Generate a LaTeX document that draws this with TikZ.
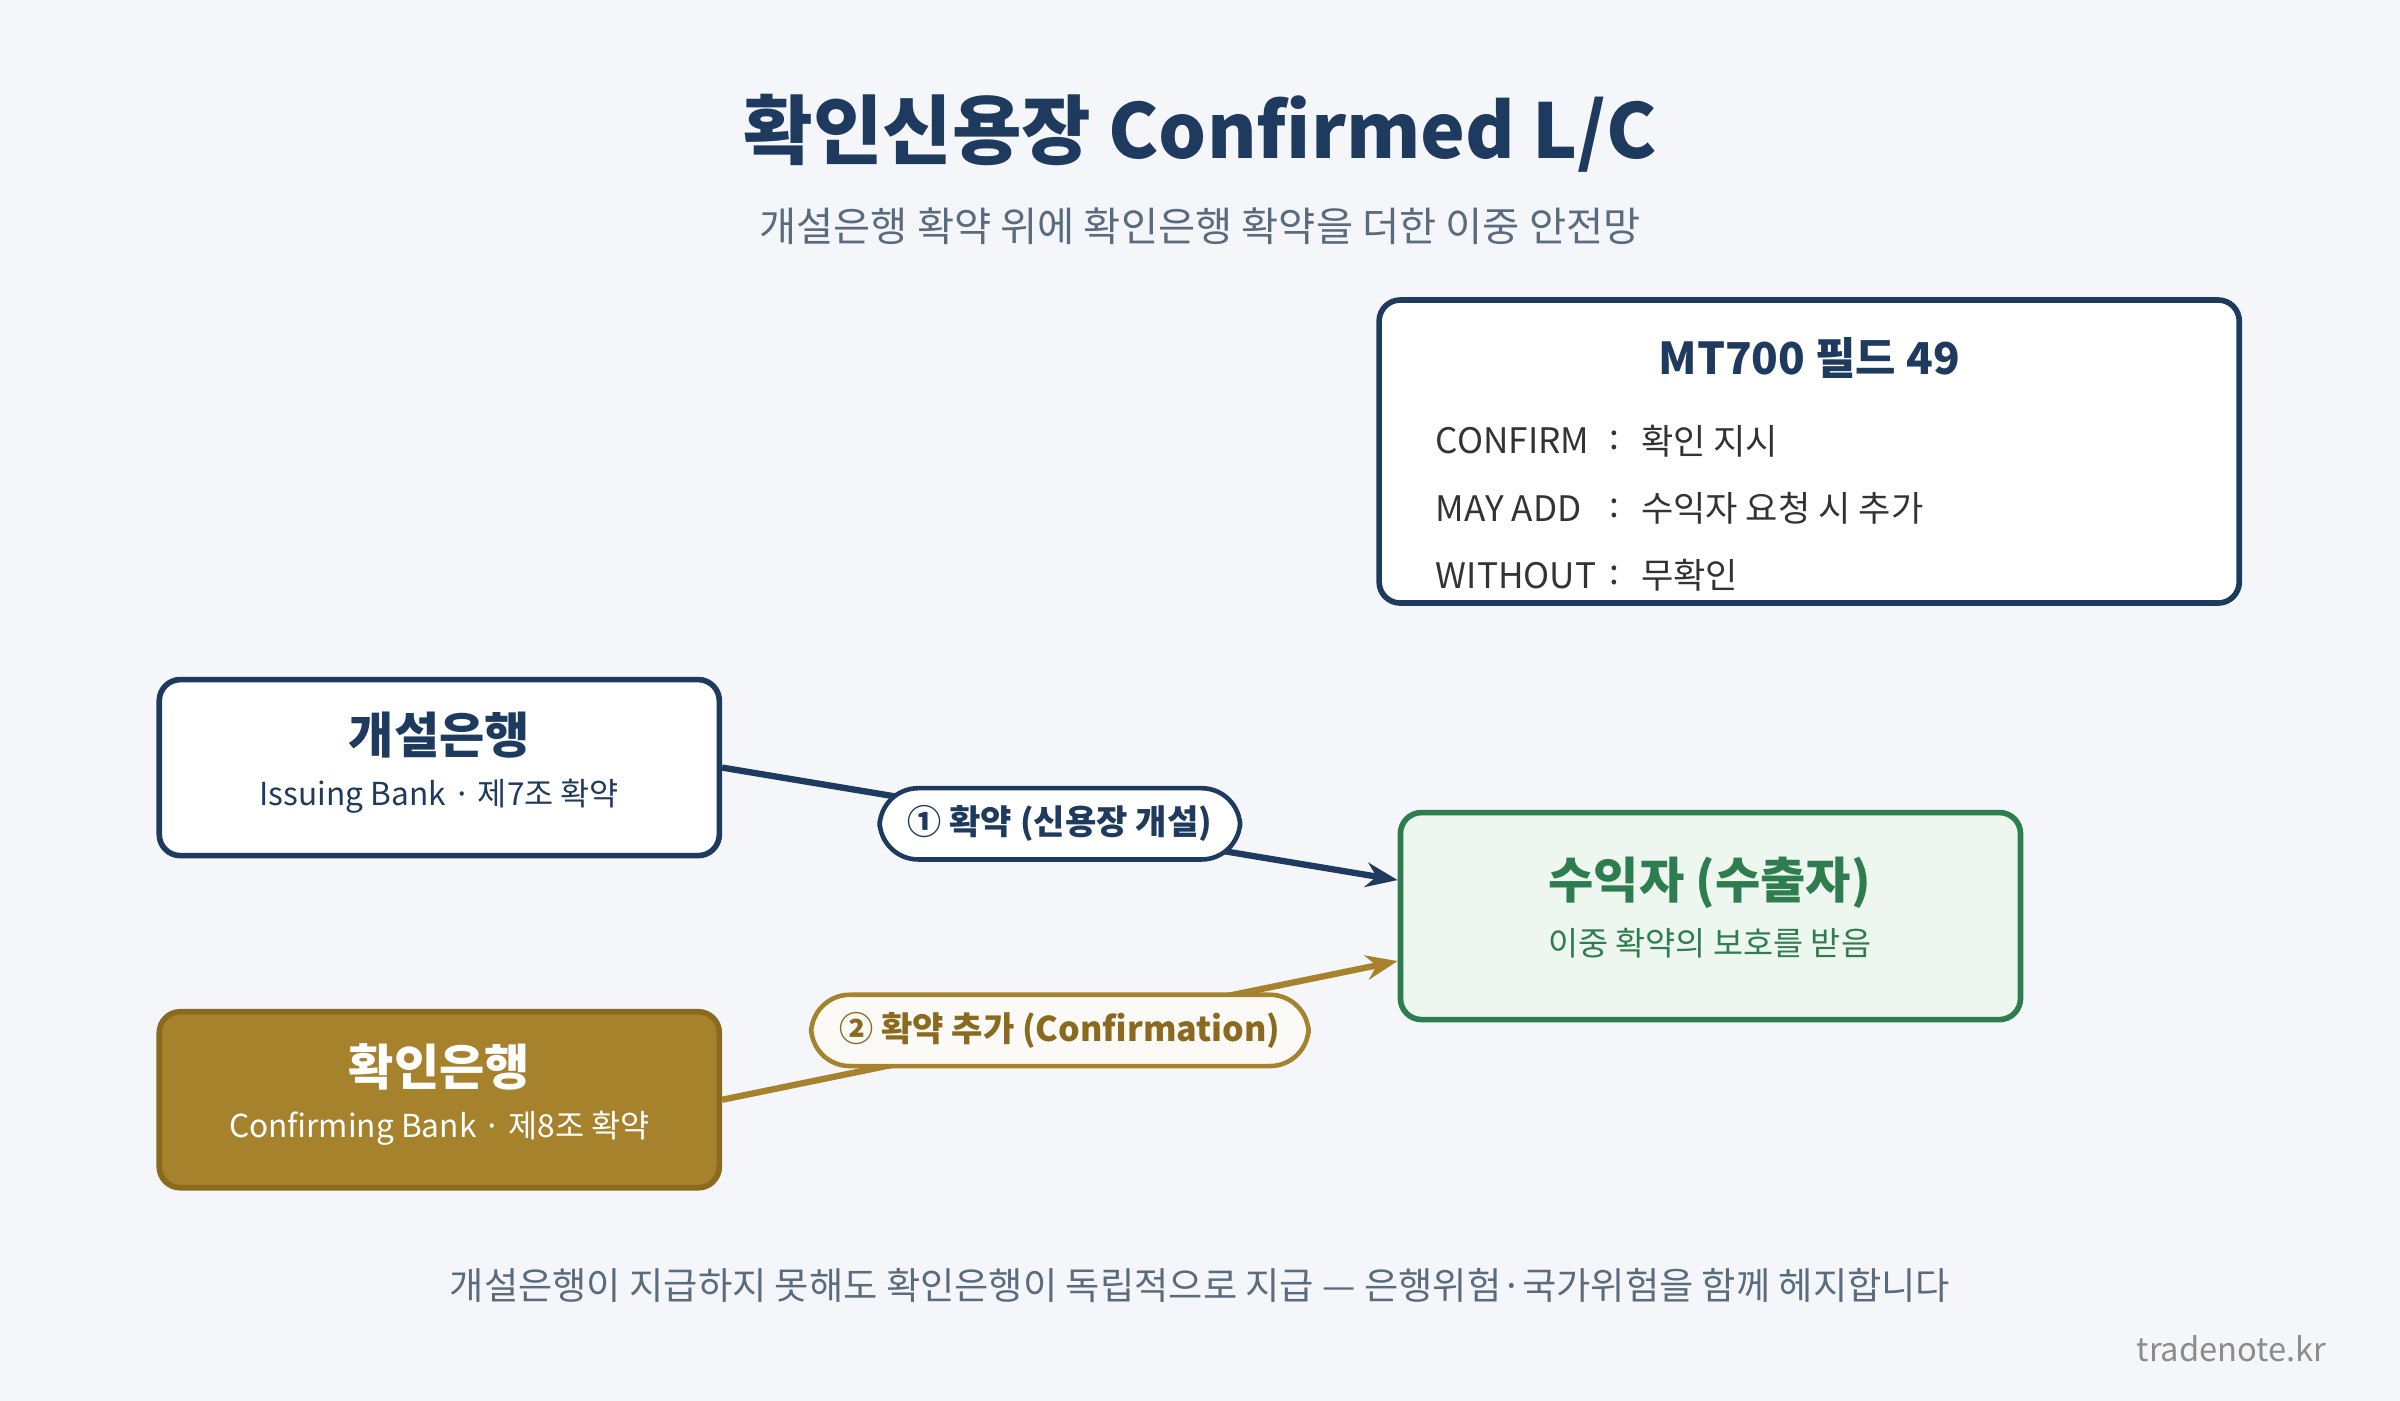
\documentclass[tikz,border=0pt]{standalone}
\usepackage{fontspec}
\setmainfont{Noto Sans CJK KR}
\usetikzlibrary{arrows.meta,calc}
\definecolor{navy}{HTML}{1F3A5F}
\definecolor{gold}{HTML}{A6822C}
\definecolor{golddark}{HTML}{8A6A1E}
\definecolor{green}{HTML}{2E7D4F}
\definecolor{greenbg}{HTML}{EDF6EF}
\definecolor{bg}{HTML}{F4F6FA}
\definecolor{subgray}{HTML}{5A6B7D}
\tikzset{
  box/.style={draw,rounded corners=6pt,line width=1.6pt,align=center},
  pill/.style={draw,rounded corners=11pt,line width=1.3pt,fill=white,inner xsep=8pt,inner ysep=5pt,font=\bfseries\fontsize{9.7}{12}\selectfont},
  flow/.style={line width=1.8pt,-{Stealth[length=9pt,width=7pt]}}
}
\begin{document}
\begin{tikzpicture}[x=0.0153cm,y=-0.0153cm]
\fill[bg] (0,0) rectangle (1568,915);
\useasboundingbox (0,0) rectangle (1568,915);
% title
\node (title) at (784,87) {\bfseries\fontsize{21.5}{26}\selectfont\color{navy}확인신용장 Confirmed L/C};
\node (subtitle) at (784,148) {\fontsize{11.5}{14}\selectfont\color{subgray}개설은행 확약 위에 확인은행 확약을 더한 이중 안전망};
% field 49 box
\node[box,draw=navy,fill=white,minimum width=8.6cm,minimum height=3.03cm] (mt) at (1182,295) {};
\node (mttitle) at (1182,234) {\bfseries\fontsize{12.5}{15}\selectfont\color{navy}MT700 필드 49};
\begin{scope}[every node/.style={font=\fontsize{10}{12}\selectfont,text=black!80}]
    \node[anchor=west] (k1) at (930,288) {CONFIRM};
    \node[anchor=west] (k2) at (930,332) {MAY ADD};
    \node[anchor=west] (k3) at (930,376) {WITHOUT};
    \node (c1) at (1055,288) {:};
    \node (c2) at (1055,332) {:};
    \node (c3) at (1055,376) {:};
    \node[anchor=west] (v1) at (1064,288) {확인 지시};
    \node[anchor=west] (v2) at (1064,332) {수익자 요청 시 추가};
    \node[anchor=west] (v3) at (1064,376) {무확인};
\end{scope}
% banks
\node[box,draw=navy,fill=white,minimum width=5.6cm,minimum height=1.76cm] (issuing) at (287,501.5) {};
\node (issT) at (287,480) {\bfseries\fontsize{14}{16}\selectfont\color{navy}개설은행};
\node (issS) at (287,520) {\fontsize{9}{11}\selectfont\color{navy}Issuing Bank · 제7조 확약};
\node[box,draw=golddark,fill=gold,minimum width=5.6cm,minimum height=1.76cm] (confirming) at (287,718.5) {};
\node (conT) at (287,697) {\bfseries\fontsize{14}{16}\selectfont\color{white}확인은행};
\node (conS) at (287,737) {\fontsize{9}{11}\selectfont\color{white}Confirming Bank · 제8조 확약};
\node[box,draw=green,fill=greenbg,minimum width=6.2cm,minimum height=2.07cm] (benef) at (1117.5,598.5) {};
\node (benT) at (1117,577) {\bfseries\fontsize{14}{16}\selectfont\color{green}수익자 (수출자)};
\node (benS) at (1117,616) {\fontsize{9.3}{11}\selectfont\color{green}이중 확약의 보호를 받음};
% connectors
\coordinate (in1) at ([yshift=0.36cm]benef.west);
\coordinate (in2) at ([yshift=-0.45cm]benef.west);
\draw[flow,navy] (issuing.east) -- (in1) node[pill,midway,draw=navy,text=navy] {① 확약 (신용장 개설)};
\draw[flow,gold] (confirming.east) -- (in2) node[pill,midway,draw=gold,text=golddark,fill=white!96!gold] {② 확약 추가 (Confirmation)};
% footer
\node (footer) at (784,840) {\fontsize{10.6}{13}\selectfont\color{subgray}개설은행이 지급하지 못해도 확인은행이 독립적으로 지급 — 은행위험·국가위험을 함께 헤지합니다};
\node (site) at (1458,881) {\fontsize{9.3}{11}\selectfont\color{black!45}tradenote.kr};
\end{tikzpicture}
\end{document}
